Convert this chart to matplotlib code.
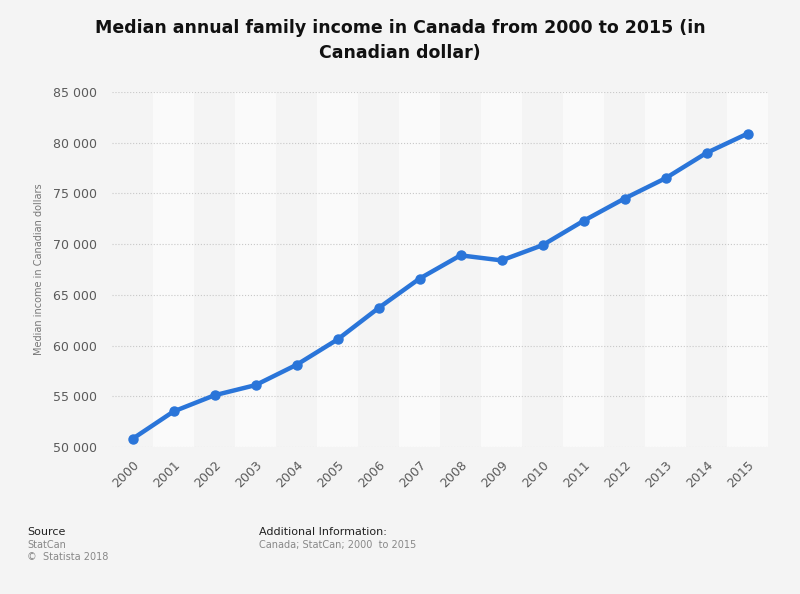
import matplotlib
matplotlib.use('Agg')
import matplotlib.pyplot as plt
import matplotlib.ticker

years = ['2000', '2001', '2002', '2003', '2004', '2005', '2006', '2007',
         '2008', '2009', '2010', '2011', '2012', '2013', '2014', '2015']
income = [50800, 53500, 55100, 56100, 58100, 60600, 63700, 66600,
          68900, 68400, 69900, 72300, 74500, 76500, 79000, 80900]
y_ticks = [50000, 55000, 60000, 65000, 70000, 75000, 80000, 85000]

bg = '#f4f4f4'
fig = plt.figure(figsize=(8, 5.94), dpi=100, facecolor=bg)
ax = fig.add_axes([0.14, 0.2475, 0.82, 0.5975], facecolor=bg)

x = list(range(len(years)))
# alternating column bands
for i in x:
    if i % 2 == 1:
        ax.axvspan(i - 0.5, i + 0.5, color='#fafafa', zorder=0, lw=0)

ax.plot(x, income, color='#2a75d9', lw=3.2, marker='o', ms=6.5, zorder=3)

ax.set_xlim(-0.5, len(years) - 0.5)
ax.set_ylim(50000, 85000)
ax.set_yticks(y_ticks)
ax.yaxis.set_major_formatter(matplotlib.ticker.FuncFormatter(
    lambda v, p: f'{int(v):,}'.replace(',', ' ')))
ax.set_xticks(x)
ax.set_xticklabels(years, rotation=45, ha='right', rotation_mode='anchor')
ax.tick_params(axis='both', length=0, labelsize=9, colors='#5a5a5a')
ax.tick_params(axis='x', pad=8)
ax.tick_params(axis='y', pad=11)
ax.grid(axis='y', color='#c8c8c8', ls=':', lw=0.8, zorder=1)
for s in ax.spines.values():
    s.set_visible(False)
ax.set_ylabel('Median income in Canadian dollars', fontsize=7, color='#777777',
              labelpad=6)

fig.text(0.5, 0.953, 'Median annual family income in Canada from 2000 to 2015 (in',
         ha='center', va='center', fontsize=12.5, fontweight='bold', color='#111111')
fig.text(0.5, 0.911, 'Canadian dollar)',
         ha='center', va='center', fontsize=12.5, fontweight='bold', color='#111111')

fig.text(0.034, 0.104, 'Source', fontsize=8, color='#222222', va='center')
fig.text(0.034, 0.082, 'StatCan', fontsize=7, color='#888888', va='center')
fig.text(0.034, 0.062, '\u00a9  Statista 2018', fontsize=7, color='#888888', va='center')
fig.text(0.324, 0.104, 'Additional Information:', fontsize=8, color='#222222', va='center')
fig.text(0.324, 0.082, 'Canada; StatCan; 2000  to 2015', fontsize=7, color='#888888',
         va='center')

plt.savefig('out.png', dpi=100, facecolor=bg)
